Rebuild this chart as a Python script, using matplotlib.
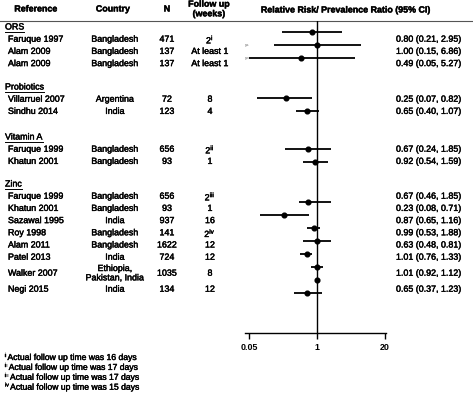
"""Forest plot: relative risk / prevalence ratio per study, grouped by intervention."""
import matplotlib

matplotlib.use("Agg")
import matplotlib.patheffects as pe
import matplotlib.pyplot as plt
import numpy as np

plt.rcParams["font.family"] = ["Liberation Sans", "DejaVu Sans"]
plt.rcParams["mathtext.fontset"] = "custom"
plt.rcParams["mathtext.rm"] = "Liberation Sans"
plt.rcParams["mathtext.it"] = "Liberation Sans"

GROUPS = ["ORS", "Probiotics", "Vitamin A", "Zinc"]
GROUP_OF = [0, 0, 0, 1, 1, 2, 2, 3, 3, 3, 3, 3, 3, 3, 3]
REFERENCES = ["Faruque 1997", "Alam 2009", "Alam 2009",
              "Villarruel 2007", "Sindhu 2014",
              "Faruque 1999", "Khatun 2001",
              "Faruque 1999", "Khatun 2001", "Sazawal 1995", "Roy 1998",
              "Alam 2011", "Patel 2013", "Walker 2007", "Negi 2015"]
COUNTRIES = ["Bangladesh", "Bangladesh", "Bangladesh",
             "Argentina", "India",
             "Bangladesh", "Bangladesh",
             "Bangladesh", "Bangladesh", "India", "Bangladesh",
             "Bangladesh", "India", "Ethiopia,\nPakistan, India", "India"]
N = [471, 137, 137, 72, 123, 656, 93, 656, 93, 937, 141, 1622, 724, 1035, 134]
FOLLOW_UP = [r"2$^{\mathrm{i}}$", "At least 1", "At least 1",
             "8", "4",
             r"2$^{\mathrm{ii}}$", "1",
             r"2$^{\mathrm{iii}}$", "1", "16", r"2$^{\mathrm{iv}}$",
             "12", "12", "8", "12"]
RR = [0.80, 1.00, 0.49, 0.25, 0.65, 0.67, 0.92, 0.67, 0.23, 0.87, 0.99, 0.63, 1.01, 1.01, 0.65]
LO = [0.21, 0.15, 0.05, 0.07, 0.40, 0.24, 0.54, 0.46, 0.08, 0.65, 0.53, 0.48, 0.76, 0.92, 0.37]
HI = [2.95, 6.86, 5.27, 0.82, 1.07, 1.85, 1.59, 1.85, 0.71, 1.16, 1.88, 0.81, 1.33, 1.12, 1.23]
X_TICKS = [0.05, 1, 20]
X_TICK_LABELS = ["0.05", "1", "20"]
FOOT_MARKS = ["i", "ii", "iii", "iv"]
FOOT_TEXTS = ["Actual follow up time was 16 days", "Actual follow up time was 17 days",
              "Actual follow up time was 17 days", "Actual follow up time was 15 days"]

# layout (pixel rows of the 473x393 canvas)
W, H = 473, 393
GROUP_HEAD_Y = [27, 87, 137, 184]
TEXT_STEP = 12.2
MARK_START = [32, 98, 149, 202]
MARK_STEP = 13
FS = 6.4
DARK = [pe.withStroke(linewidth=0.3, foreground="black")]

fig = plt.figure(figsize=(W / 100, H / 100), dpi=100)
tab = fig.add_axes([0, 0, 1, 1])
tab.set_xlim(0, W)
tab.set_ylim(H, 0)
tab.axis("off")
renderer = fig.canvas.get_renderer()


def txt(x, y, s, **kw):
    kw.setdefault("fontsize", FS)
    kw.setdefault("va", "center")
    kw.setdefault("path_effects", DARK)
    return tab.text(x, y, s, **kw)


# header
txt(36, 9, "Reference", fontweight="bold", ha="center")
txt(113, 9, "Country", fontweight="bold", ha="center")
txt(167, 9, "N", fontweight="bold", ha="center")
txt(209, 9, "Follow up\n(weeks)", fontweight="bold", ha="center", linespacing=1.1)
txt(346, 10, "Relative Risk/ Prevalence Ratio (95% CI)", fontweight="bold", ha="center")
tab.plot([0, W], [21, 21], color="#555555", lw=0.8)

# rows
text_y = []
mark_y = []
for g, name in enumerate(GROUPS):
    t = txt(5, GROUP_HEAD_Y[g], name, ha="left")
    bb = t.get_window_extent(renderer)
    tab.plot([bb.x0, bb.x1], [GROUP_HEAD_Y[g] + 4.6] * 2, color="black", lw=0.7)
    y = GROUP_HEAD_Y[g]
    idx = [i for i, gg in enumerate(GROUP_OF) if gg == g]
    for k, i in enumerate(idx):
        extra = 3.8 if "\n" in COUNTRIES[i] else 0
        y += TEXT_STEP + extra
        text_y.append(y)
        y += extra
        mark_y.append(MARK_START[g] + MARK_STEP * k)

for i in range(len(REFERENCES)):
    y = text_y[i]
    txt(8, y, REFERENCES[i], ha="left")
    txt(115, y, COUNTRIES[i], ha="center", linespacing=1.05)
    txt(167, y, str(N[i]), ha="center")
    txt(210, y, FOLLOW_UP[i], ha="center")
    txt(396, y, f"{RR[i]:.2f} ({LO[i]:.2f}, {HI[i]:.2f})", ha="left")

# stray labels present in the source figure
tab.text(245, mark_y[1], "ys", fontsize=3.2, color="#666666", va="center", ha="left")
tab.text(245, mark_y[2], "yo", fontsize=3.2, color="#666666", va="center", ha="left")

# footnotes
for k, (m, note) in enumerate(zip(FOOT_MARKS, FOOT_TEXTS)):
    y = 357.5 + 9.9 * k
    mk = txt(5, y - 2.2, m, ha="left", fontsize=3.8)
    x_end = tab.transData.inverted().transform(
        (mk.get_window_extent(renderer).x1, 0))[0]
    txt(x_end + 1.2, y, note, ha="left", fontsize=FS - 0.2)

# forest axes
ax = fig.add_axes([245 / W, (H - 333) / H, 141 / W, (333 - 21) / H])
ax.set_xscale("log")
ax.set_xlim(0.05 / 10 ** (4 / 52.3), 20 * 10 ** (1 / 52.3))
ax.set_ylim(333, 21)
rr = np.array(RR)
ax.errorbar(rr, mark_y, xerr=[rr - np.array(LO), np.array(HI) - rr], fmt="o",
            color="black", ms=3.4, elinewidth=1.3, capsize=0)
ax.axvline(1, color="black", lw=1.0)
for s in ("top", "right", "left"):
    ax.spines[s].set_visible(False)
ax.spines["bottom"].set_linewidth(1.0)
ax.set_yticks([])
ax.set_xticks(X_TICKS)
ax.set_xticklabels(X_TICK_LABELS, fontsize=FS, fontweight="bold")
ax.xaxis.set_minor_locator(matplotlib.ticker.NullLocator())
ax.tick_params(axis="x", direction="out", length=4, width=1.0, pad=3)
ax.patch.set_alpha(0)

fig.savefig("out.png", dpi=100)
